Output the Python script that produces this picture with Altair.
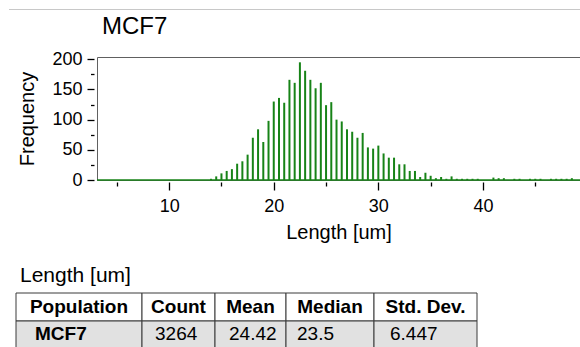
import altair as alt
import pandas as pd

# ---- histogram of cell length (bin centres in um, counts per 0.5 um bin) ----
bin_centers = [
    14.0, 14.5, 15.0, 15.5, 16.0, 16.5, 17.0, 17.5, 18.0, 18.5,
    19.0, 19.5, 20.0, 20.5, 21.0, 21.5, 22.0, 22.5, 23.0, 23.5,
    24.0, 24.5, 25.0, 25.5, 26.0, 26.5, 27.0, 27.5, 28.0, 28.5,
    29.0, 29.5, 30.0, 30.5, 31.0, 31.5, 32.0, 32.5, 33.0, 33.5,
    34.0, 34.5, 35.0, 35.5, 36.0, 36.5, 37.0, 37.5, 38.0, 38.5,
    39.0, 39.5, 40.0, 40.5, 41.0, 41.5, 42.0, 42.5, 43.0, 43.5,
    44.0, 44.5, 45.0, 45.5, 46.0, 46.5, 47.0, 47.5, 48.0, 48.5,
]
counts = [
    2, 6, 11, 15, 18, 27, 31, 42, 70, 84,
    63, 98, 130, 136, 128, 166, 161, 195, 181, 166,
    152, 161, 124, 129, 100, 97, 84, 80, 70, 78,
    54, 52, 57, 44, 37, 37, 26, 26, 15, 15,
    5, 12, 7, 3, 5, 2, 6, 2, 2, 2,
    2, 2, 0, 0, 4, 3, 3, 0, 2, 2,
    0, 2, 2, 2, 0, 2, 2, 2, 2, 3,
]

# ---- summary statistics table ----
stat_headers = ["Population", "Count", "Mean", "Median", "Std. Dev."]
stat_values = ["MCF7", "3264", "24.42", "23.5", "6.447"]

x_ticks = [5, 10, 15, 20, 25, 30, 35, 40, 45]
y_ticks = [0, 25, 50, 75, 100, 125, 150, 175, 200]

# ---- layout (pixels) ----
PAD_L, PAD_T, PAD_B = 97, 57, 167
W, H = 483, 123
GREEN = "#178317"
FONT = "Liberation Sans"
col_edges = [16, 142, 215, 286, 374, 477]     # table column borders
row_edges = [293, 321, 349]                   # header / data row borders
data_text_x = [35, 155, 229, 297, 390]        # left edge of each data cell's text

hist = pd.DataFrame({"length": bin_centers, "count": counts})

x_scale = alt.Scale(domain=[3.58, 48.8], nice=False, zero=False)
y_scale = alt.Scale(domain=[0, 203.8], nice=False)

x_axis = alt.Axis(
    values=x_ticks, labelOverlap=False,
    labelExpr="datum.value % 10 === 0 ? datum.label : ''",
    tickSize={"condition": {"test": "datum.value % 10 === 0", "value": 8}, "value": 4},
    tickColor="black", tickWidth=1.3, offset=2, domain=False, grid=False,
    labelFont=FONT, labelFontSize=18, labelColor="black", labelPadding=7,
    title="Length [um]", titleFont=FONT, titleFontSize=20, titleFontWeight="normal",
    titleColor="black", titlePadding=7,
)
y_axis = alt.Axis(
    values=y_ticks, labelOverlap=False,
    labelExpr="datum.value % 50 === 0 ? datum.label : ''",
    tickSize={"condition": {"test": "datum.value % 50 === 0", "value": 7}, "value": 3.5},
    tickColor="black", tickWidth=1.3, offset=3, domain=False, grid=False,
    labelFont=FONT, labelFontSize=18, labelColor="black", labelPadding=5,
    title="Frequency", titleFont=FONT, titleFontSize=20, titleFontWeight="normal",
    titleColor="black", titlePadding=14,
)

bars = alt.Chart(hist).mark_bar(size=2, color=GREEN).encode(
    x=alt.X("length:Q", scale=x_scale, axis=x_axis),
    y=alt.Y("count:Q", scale=y_scale, axis=y_axis),
)

# green base line along the bottom of the plot frame
baseline = alt.Chart(pd.DataFrame({"v": [0]})).mark_rule(
    color=GREEN, strokeWidth=1.5
).encode(x=alt.value(0), x2=alt.value(W), y=alt.value(H))

separator = alt.Chart(pd.DataFrame({"v": [0]})).mark_rule(
    color="#c8c8c8", strokeWidth=1
).encode(
    x=alt.value(9 - PAD_L), x2=alt.value(580 - PAD_L), y=alt.value(9.5 - PAD_T)
)

title = alt.Chart(pd.DataFrame({"t": ["MCF7"]})).mark_text(
    font=FONT, fontSize=24, align="left", baseline="alphabetic", color="black"
).encode(x=alt.value(102 - PAD_L), y=alt.value(34 - PAD_T), text="t:N")

table_title = alt.Chart(pd.DataFrame({"t": ["Length [um]"]})).mark_text(
    font=FONT, fontSize=21, align="left", baseline="alphabetic", color="black"
).encode(x=alt.value(20 - PAD_L), y=alt.value(281.7 - PAD_T), text="t:N")

# table cells
cell_rows = []
for r in range(2):
    for c in range(len(stat_headers)):
        cell_rows.append({
            "x0": col_edges[c] - PAD_L, "x1": col_edges[c + 1] - PAD_L,
            "y0": row_edges[r] - PAD_T, "y1": row_edges[r + 1] - PAD_T,
            "fill": "white" if r == 0 else "#e1e1e1",
        })
cells = pd.DataFrame(cell_rows)

cell_rects = alt.Chart(cells).mark_rect(stroke="#3a3a3a", strokeWidth=1).encode(
    x=alt.X("x0:Q", scale=None, axis=None), x2="x1:Q",
    y=alt.Y("y0:Q", scale=None, axis=None), y2="y1:Q",
    fill=alt.Fill("fill:N", scale=None, legend=None),
)

header_df = pd.DataFrame({
    "text": stat_headers,
    "x": [(col_edges[i] + col_edges[i + 1]) / 2 - PAD_L for i in range(len(stat_headers))],
    "y": [313.3 - PAD_T] * len(stat_headers),
})
header_text = alt.Chart(header_df).mark_text(
    font=FONT, fontSize=19, fontWeight="bold", align="center", baseline="alphabetic", color="black"
).encode(
    x=alt.X("x:Q", scale=None, axis=None), y=alt.Y("y:Q", scale=None, axis=None), text="text:N"
)

values_df = pd.DataFrame({
    "text": stat_values,
    "x": [v - PAD_L for v in data_text_x],
    "y": [340 - PAD_T] * len(stat_values),
    "bold": [True] + [False] * (len(stat_values) - 1),
})
pop_text = alt.Chart(values_df[values_df["bold"]]).mark_text(
    font=FONT, fontSize=19, fontWeight="bold", align="left", baseline="alphabetic", color="black"
).encode(
    x=alt.X("x:Q", scale=None, axis=None), y=alt.Y("y:Q", scale=None, axis=None), text="text:N"
)
stat_text = alt.Chart(values_df[~values_df["bold"]]).mark_text(
    font=FONT, fontSize=19, align="left", baseline="alphabetic", color="black"
).encode(
    x=alt.X("x:Q", scale=None, axis=None), y=alt.Y("y:Q", scale=None, axis=None), text="text:N"
)

chart = alt.layer(
    bars, baseline, separator, title, table_title,
    cell_rects, header_text, pop_text, stat_text,
).properties(
    width=W, height=H,
    padding={"left": PAD_L, "top": PAD_T, "right": 0, "bottom": PAD_B},
    autosize=alt.AutoSizeParams(type="none"),
    background="white",
).configure_view(stroke="#606060", strokeWidth=1)

chart.save("out.html", embed_options={"renderer": "svg", "actions": False})
